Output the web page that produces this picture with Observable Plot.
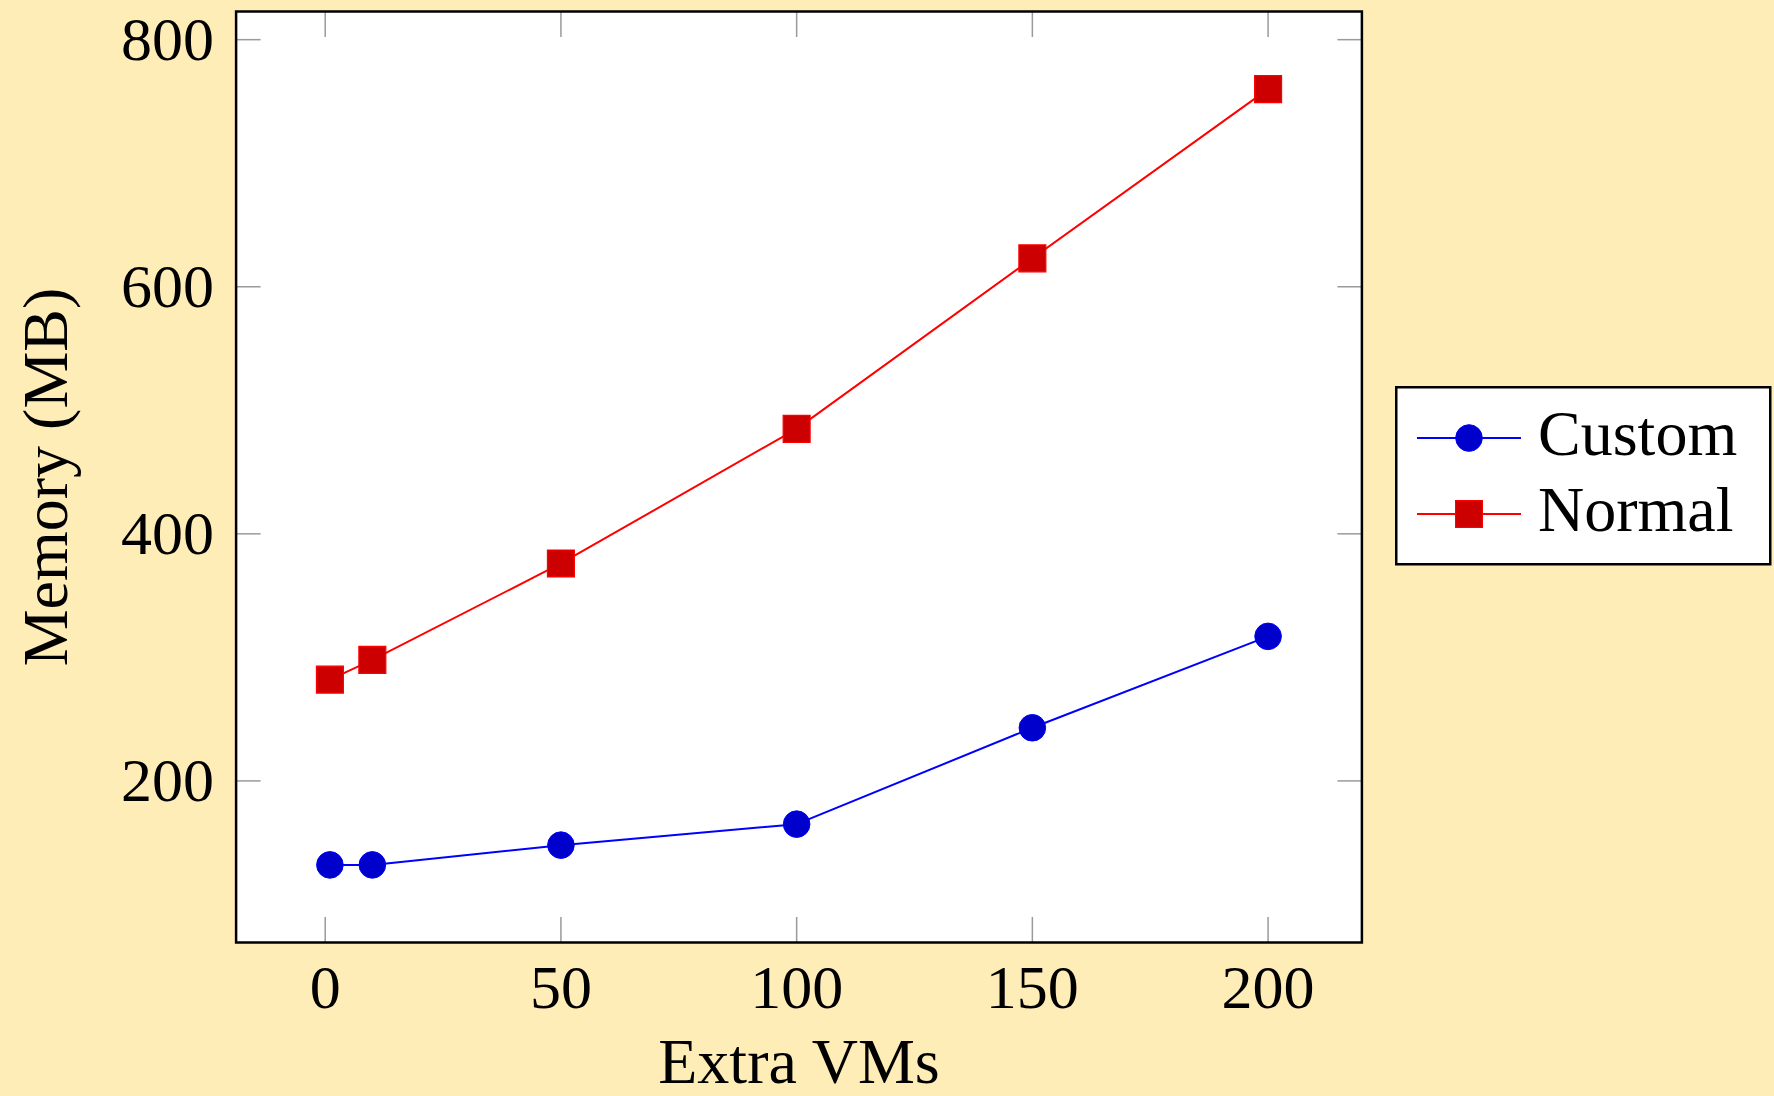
<!DOCTYPE html>
<html><head><meta charset="utf-8">
<script src="https://cdn.jsdelivr.net/npm/d3@7"></script>
<script src="https://cdn.jsdelivr.net/npm/@observablehq/plot@0.6"></script>
<style>
html,body{margin:0;padding:0;background:#FFEDB8;}
#wrap{position:relative;width:1774px;height:1096px;overflow:hidden;background:#FFEDB8;}
#legend{position:absolute;left:1395px;top:386px;}
</style></head><body><div id="wrap"></div>
<script>
const vms = [1, 10, 50, 100, 150, 200];
const customMB = [132, 132, 148, 165, 243, 317];
const normalMB = [282, 298, 376, 485, 623, 760];
const seriesNames = ["Custom", "Normal"];
const xTicks = [0, 50, 100, 150, 200];
const yTicks = [200, 400, 600, 800];
const xLabel = "Extra VMs";
const yLabel = "Memory (MB)";

const custom = vms.map((x, i) => ({x, y: customMB[i], s: seriesNames[0]}));
const normal = vms.map((x, i) => ({x, y: normalMB[i], s: seriesNames[1]}));

function enlarge([a, b]) { const p = 0.1 * (b - a); return [a - p, b + p]; }
const xDom = enlarge(d3.extent(vms));
const yDom = enlarge(d3.extent([...customMB, ...normalMB]));

const FONT = "'Liberation Serif', 'DejaVu Serif', serif";
const tickColor = "#9a9a9a";

const chart = Plot.plot({
  width: 1774,
  height: 1096,
  marginLeft: 235.6,
  marginRight: 412.6,
  marginTop: 11,
  marginBottom: 154,
  style: {fontFamily: FONT, fontSize: "62px", background: "transparent", color: "black"},
  x: {domain: xDom},
  y: {domain: yDom},
  marks: [
    Plot.frame({fill: "white", stroke: "none"}),
    Plot.axisX(xTicks, {anchor: "bottom", tickSize: -25, fill: "none", stroke: tickColor, strokeWidth: 1.5}),
    Plot.axisX(xTicks, {anchor: "top", tickSize: -25, fill: "none", stroke: tickColor, strokeWidth: 1.5}),
    Plot.axisY(yTicks, {anchor: "left", tickSize: -25, fill: "none", stroke: tickColor, strokeWidth: 1.5}),
    Plot.axisY(yTicks, {anchor: "right", tickSize: -25, fill: "none", stroke: tickColor, strokeWidth: 1.5}),
    Plot.axisX(xTicks, {anchor: "bottom", tickSize: 0, tickPadding: 21, label: null, fontSize: 62}),
    Plot.axisY(yTicks, {anchor: "left", tickSize: 0, tickPadding: 22, label: null, fontSize: 62}),
    Plot.text([xLabel], {frameAnchor: "bottom", lineAnchor: "middle", textAnchor: "middle", dy: 120, text: d => d, fontSize: 64, fill: "black"}),
    Plot.text([yLabel], {frameAnchor: "left", lineAnchor: "middle", textAnchor: "middle", dx: -190, rotate: -90, text: d => d, fontSize: 64, fill: "black"}),
    Plot.line(custom, {x: "x", y: "y", stroke: "#0000FF", strokeWidth: 2}),
    Plot.line(normal, {x: "x", y: "y", stroke: "#FF0000", strokeWidth: 2}),
    Plot.dot(custom, {x: "x", y: "y", r: 13.3, fill: "#0000CC", stroke: "#0000FF", strokeWidth: 1}),
    Plot.dot(normal, {x: "x", y: "y", r: 15.2, symbol: "square", fill: "#CC0000", stroke: "#FF0000", strokeWidth: 1.2}),
    Plot.frame({stroke: "black", strokeWidth: 2.5})
  ]
});
const wrap = document.getElementById("wrap");
wrap.appendChild(chart);

// legend
const lg = d3.select(wrap).append("svg").attr("id", "legend")
  .attr("width", 379).attr("height", 181)
  .style("font-family", FONT);
lg.append("rect").attr("x", 1.25).attr("y", 1.25).attr("width", 374).attr("height", 177)
  .attr("fill", "white").attr("stroke", "black").attr("stroke-width", 2.5);
const rows = [
  {name: seriesNames[0], cy: 52, line: "#0000FF", fill: "#0000CC", shape: "circle"},
  {name: seriesNames[1], cy: 128, line: "#FF0000", fill: "#CC0000", shape: "square"}
];
rows.forEach(r => {
  lg.append("line").attr("x1", 22).attr("x2", 126).attr("y1", r.cy).attr("y2", r.cy)
    .attr("stroke", r.line).attr("stroke-width", 2);
  if (r.shape === "circle") {
    lg.append("circle").attr("cx", 74).attr("cy", r.cy).attr("r", 13.3)
      .attr("fill", r.fill).attr("stroke", r.line).attr("stroke-width", 1);
  } else {
    lg.append("rect").attr("x", 74 - 13.4).attr("y", r.cy - 13.4).attr("width", 26.8).attr("height", 26.8)
      .attr("fill", r.fill).attr("stroke", r.line).attr("stroke-width", 1.2);
  }
  lg.append("text").attr("x", 143).attr("y", r.cy + 17).attr("font-size", 64).attr("fill", "black").text(r.name);
});
</script>
</body></html>
